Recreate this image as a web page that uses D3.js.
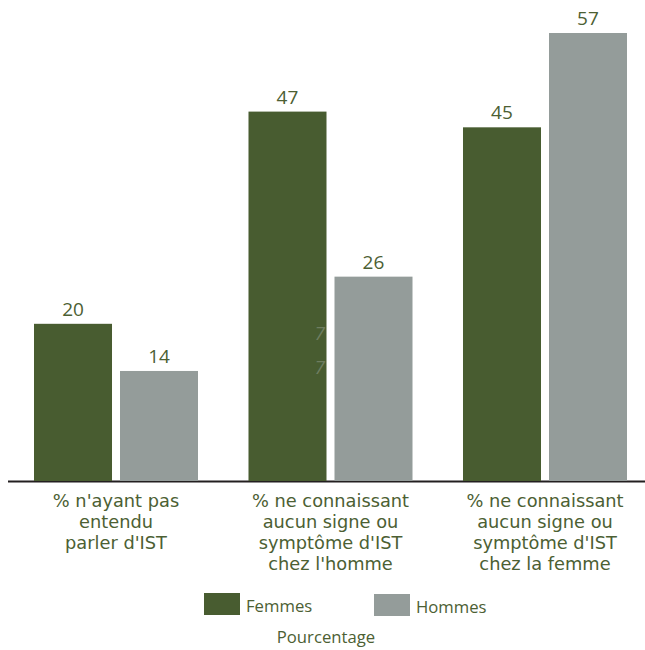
<!DOCTYPE html>
<html>
<head>
<meta charset="utf-8">
<script src="https://cdn.jsdelivr.net/npm/d3@7/dist/d3.min.js"></script>
<style>
  html, body { margin: 0; padding: 0; background: #ffffff; }
  svg { display: block; }
  text { font-family: "Open Sans", "Noto Sans", sans-serif; }
  text.catline { font-family: "DejaVu Sans", sans-serif; }
</style>
</head>
<body>
<script>
// ---- Data ----
const categories = [
  ["% n'ayant pas", "entendu", "parler d'IST"],
  ["% ne connaissant", "aucun signe ou", "symptôme d'IST", "chez l'homme"],
  ["% ne connaissant", "aucun signe ou", "symptôme d'IST", "chez la femme"]
];
const seriesNames = ["Femmes", "Hommes"];
const femmes = [20, 47, 45];
const hommes = [14, 26, 57];
const axisTitle = "Pourcentage";
const strayLabels = ["7", "7"];

// ---- Style ----
const W = 645, H = 650;
const colors = { Femmes: "#485c30", Hommes: "#949c9a" };
const textColor = "#4c6033";

const svg = d3.select("body").append("svg")
  .attr("width", W).attr("height", H);

const baseY = 481;
const y = d3.scaleLinear().domain([0, 57]).range([baseY, 33]);

const groupKeys = categories.map((c, i) => i);
const x0 = d3.scaleBand().domain(groupKeys).range([34, 627])
  .paddingInner(0.2354).paddingOuter(0);
const x1 = d3.scaleBand().domain(seriesNames).range([0, x0.bandwidth()])
  .paddingInner(8 / 86).paddingOuter(0);

const rows = groupKeys.map(i => ({
  i,
  values: [
    { key: "Femmes", value: femmes[i] },
    { key: "Hommes", value: hommes[i] }
  ]
}));

// baseline
svg.append("line")
  .attr("x1", 8).attr("x2", W)
  .attr("y1", baseY + 0.5).attr("y2", baseY + 0.5)
  .attr("stroke", "#231f20").attr("stroke-width", 2);

const g = svg.selectAll("g.grp").data(rows).enter().append("g")
  .attr("class", "grp")
  .attr("transform", d => `translate(${x0(d.i)},0)`);

g.selectAll("rect").data(d => d.values).enter().append("rect")
  .attr("x", d => x1(d.key))
  .attr("width", x1.bandwidth())
  .attr("y", d => y(d.value))
  .attr("height", d => y(0) - y(d.value))
  .attr("fill", d => colors[d.key]);

g.selectAll("text.val").data(d => d.values).enter().append("text")
  .attr("class", "val")
  .attr("x", d => x1(d.key) + x1.bandwidth() / 2)
  .attr("y", d => y(d.value) - 8)
  .attr("text-anchor", "middle")
  .attr("font-size", 19)
  .attr("fill", textColor)
  .text(d => d.value);

// stray faint labels (present in the reference)
svg.selectAll("text.stray").data(strayLabels).enter().append("text")
  .attr("class", "stray")
  .attr("x", x0(1) + x1("Femmes") + x1.bandwidth() - 12)
  .attr("y", (d, k) => 340 + k * 34)
  .attr("font-size", 19)
  .attr("font-style", "italic")
  .attr("fill", "#6f7e60")
  .text(d => d);

// category labels (one text per line)
const lineH = 20.9;
const catG = svg.selectAll("g.cat").data(rows).enter().append("g")
  .attr("class", "cat")
  .attr("transform", d => `translate(${x0(d.i) + x0.bandwidth() / 2},507)`);
catG.selectAll("text").data(d => categories[d.i]).enter().append("text")
  .attr("class", "catline")
  .attr("x", 0)
  .attr("y", (d, k) => k * lineH)
  .attr("text-anchor", "middle")
  .attr("font-size", 17.8)
  .attr("fill", textColor)
  .text(d => d);

// legend
const legendPos = [{ sx: 204, sy: 593 }, { sx: 374, sy: 594 }];
const lg = svg.selectAll("g.leg").data(seriesNames).enter().append("g")
  .attr("class", "leg")
  .attr("transform", (d, k) => `translate(${legendPos[k].sx},${legendPos[k].sy})`);
lg.append("rect").attr("width", 36).attr("height", 22)
  .attr("fill", d => colors[d]);
lg.append("text").attr("x", 42).attr("y", 19)
  .attr("font-size", 16.7).attr("fill", textColor)
  .text(d => d);

svg.append("text")
  .attr("x", 326).attr("y", 643)
  .attr("text-anchor", "middle")
  .attr("font-size", 16.7)
  .attr("fill", textColor)
  .text(axisTitle);
</script>
</body>
</html>
